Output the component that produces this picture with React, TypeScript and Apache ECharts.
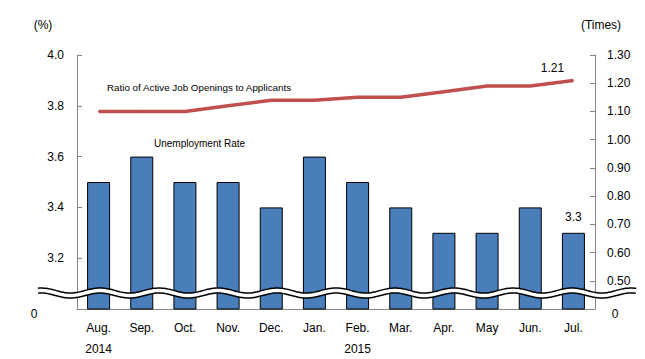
import React, { useEffect, useRef } from "react";
import * as echarts from "echarts";

const categories = ["Aug.\n2014", "Sep.", "Oct.", "Nov.", "Dec.", "Jan.", "Feb.\n2015", "Mar.", "Apr.", "May", "Jun.", "Jul."];
const unemploymentRate = [3.5, 3.6, 3.5, 3.5, 3.4, 3.6, 3.5, 3.4, 3.3, 3.3, 3.4, 3.3];
const jobRatio = [1.1, 1.1, 1.1, 1.12, 1.14, 1.14, 1.15, 1.15, 1.17, 1.19, 1.19, 1.21];
const leftTicks = { min: 3.0, max: 4.0, interval: 0.2 };
const rightTicks = { min: 0.4, max: 1.3, interval: 0.1 };

const FONT = "'Liberation Sans', Arial, sans-serif";

function wavePoints(x0: number, x1: number, yc: number, amp: number, period: number, peakX: number) {
  const pts: number[][] = [];
  for (let x = x0; x <= x1; x += 2) {
    pts.push([x, yc - amp * Math.cos((2 * Math.PI * (x - peakX)) / period)]);
  }
  return pts;
}

export default function App() {
  const ref = useRef<HTMLDivElement>(null);
  useEffect(() => {
    if (!ref.current) return;
    const chart = echarts.init(ref.current, undefined, { renderer: "svg" });
    const last = unemploymentRate.length - 1;
    const wave = wavePoints(38, 636, 293, 2.5, 59, 100);
    chart.setOption({
      animation: false,
      backgroundColor: "#fff",
      grid: { left: 77, right: 50, top: 55, bottom: 50, containLabel: false },
      xAxis: {
        type: "category",
        data: categories,
        axisLine: { show: true, lineStyle: { color: "#868686", width: 1 } },
        axisTick: { show: false },
        axisLabel: { color: "#000", fontFamily: FONT, fontSize: 12, margin: 8, lineHeight: 21, interval: 0 },
      },
      yAxis: [
        {
          type: "value",
          min: leftTicks.min,
          max: leftTicks.max,
          interval: leftTicks.interval,
          splitLine: { show: false },
          axisLine: { show: true, lineStyle: { color: "#868686" } },
          axisTick: { show: true, inside: true, length: 5, lineStyle: { color: "#868686" } },
          axisLabel: {
            color: "#000",
            fontFamily: FONT,
            fontSize: 12,
            margin: 13,
            formatter: (v: number) => (Math.abs(v - leftTicks.min) < 1e-9 ? "" : v.toFixed(1)),
          },
        },
        {
          type: "value",
          min: rightTicks.min,
          max: rightTicks.max,
          interval: rightTicks.interval,
          position: "right",
          splitLine: { show: false },
          axisLine: { show: true, lineStyle: { color: "#868686" } },
          axisTick: { show: true, inside: true, length: 5, lineStyle: { color: "#868686" } },
          axisLabel: {
            color: "#000",
            fontFamily: FONT,
            fontSize: 12,
            margin: 12,
            formatter: (v: number) => (Math.abs(v - rightTicks.min) < 1e-9 ? "" : v.toFixed(2)),
          },
        },
      ],
      series: [
        {
          type: "bar",
          yAxisIndex: 0,
          barWidth: 23,
          data: unemploymentRate.map((v, i) =>
            i === last
              ? {
                  value: v,
                  label: {
                    show: true,
                    position: "top",
                    distance: 10,
                    color: "#000",
                    fontFamily: FONT,
                    fontSize: 12,
                    formatter: (p: any) => Number(p.value).toFixed(1),
                  },
                }
              : v
          ),
          itemStyle: { color: "#4a7ebb", borderColor: "#000", borderWidth: 1 },
          z: 2,
        },
        {
          type: "line",
          yAxisIndex: 1,
          data: jobRatio.map((v, i) =>
            i === last
              ? {
                  value: v,
                  label: {
                    show: true,
                    position: "top",
                    distance: 6,
                    offset: [-21, 0],
                    color: "#000",
                    fontFamily: FONT,
                    fontSize: 12,
                    formatter: (p: any) => Number(p.value).toFixed(2),
                  },
                }
              : v
          ),
          showSymbol: true,
          symbol: "circle",
          symbolSize: 1,
          itemStyle: { color: "#c0504d" },
          lineStyle: { color: "#c0504d", width: 3.5 },
          z: 3,
        },
      ],
      graphic: [
        { type: "polyline", shape: { points: wave }, style: { stroke: "#000", lineWidth: 6.5, fill: null }, z: 100 },
        { type: "polyline", shape: { points: wave }, style: { stroke: "#fff", lineWidth: 3.5, fill: null }, z: 101 },
        { type: "text", x: 43, y: 25, style: { text: "(%)", font: `12px ${FONT}`, fill: "#000", align: "center", verticalAlign: "middle" }, z: 102 },
        { type: "text", x: 601, y: 25, style: { text: "(Times)", font: `12px ${FONT}`, fill: "#000", align: "center", verticalAlign: "middle" }, z: 102 },
        { type: "text", x: 34, y: 314, style: { text: "0", font: `12px ${FONT}`, fill: "#000", align: "center", verticalAlign: "middle" }, z: 102 },
        { type: "text", x: 615, y: 314, style: { text: "0", font: `12px ${FONT}`, fill: "#000", align: "center", verticalAlign: "middle" }, z: 102 },
        { type: "text", x: 107, y: 87, style: { text: "Ratio of Active Job Openings to Applicants", font: `9.8px ${FONT}`, fill: "#000", align: "left", verticalAlign: "middle" }, z: 102 },
        { type: "text", x: 154, y: 143, style: { text: "Unemployment Rate", font: `10px ${FONT}`, fill: "#000", align: "left", verticalAlign: "middle" }, z: 102 },
      ],
    });
    return () => chart.dispose();
  }, []);
  return <div ref={ref} style={{ width: 645, height: 359, position: "absolute", left: 0, top: 0 }} />;
}
